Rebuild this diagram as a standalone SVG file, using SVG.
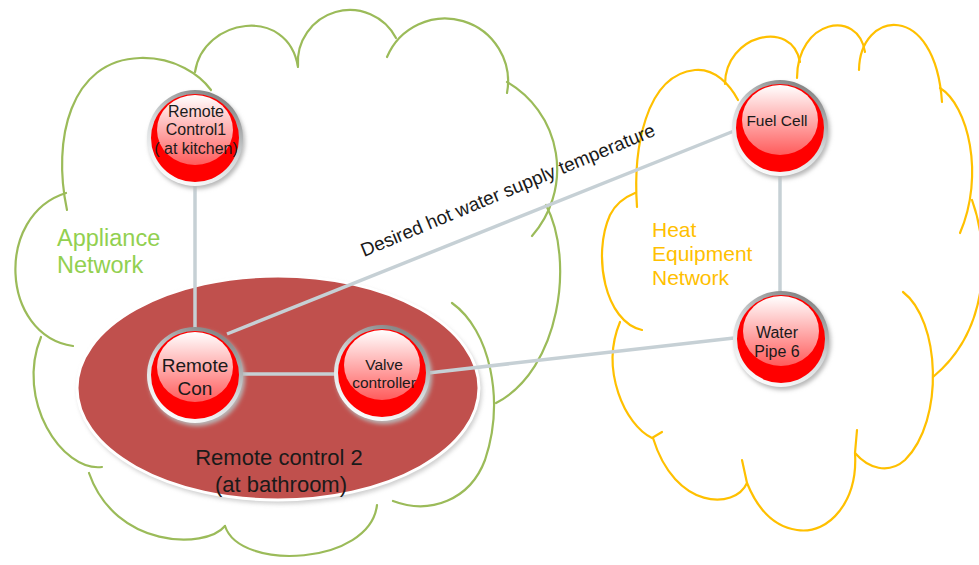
<svg xmlns="http://www.w3.org/2000/svg" width="979" height="565" viewBox="0 0 979 565">
<defs>
<linearGradient id="ring" x1="0.75" y1="0" x2="0.25" y2="1">
<stop offset="0" stop-color="#7d7d7d"/>
<stop offset="0.5" stop-color="#d4d8da"/>
<stop offset="1" stop-color="#ffffff"/>
</linearGradient>
<linearGradient id="gloss" x1="0" y1="0" x2="0" y2="1">
<stop offset="0" stop-color="#ffffff" stop-opacity="1"/>
<stop offset="1" stop-color="#ffffff" stop-opacity="0.36"/>
</linearGradient>
<filter id="blur" x="-20%" y="-20%" width="140%" height="140%"><feGaussianBlur stdDeviation="2"/></filter>
<g id="ball">
<circle cx="2" cy="3" r="48" fill="#b8b8b8" filter="url(#blur)"/>
<circle r="48" fill="url(#ring)"/>
<circle r="44" fill="#ff0000"/>
<ellipse cy="-8" rx="38" ry="35" fill="url(#gloss)"/>
</g>
</defs>
<style>
.gc{fill:none;stroke:#9bbb59;stroke-width:2.2;stroke-linecap:round}
.yc{fill:none;stroke:#ffc000;stroke-width:2.2;stroke-linecap:round}
.con{fill:none;stroke:#c6d0d5;stroke-width:3.5}
.nt{font-family:"Liberation Sans",Arial,sans-serif;fill:#1a1a1a;text-anchor:middle}
</style>
<g id="appliance-cloud">
<path class="gc" d="M67,210 C52,140 70,60 140,58 C175,57 200,75 211,90"/>
<path class="gc" d="M195,72 C203,18 288,5 298,67"/>
<path class="gc" d="M298,66 A52,52 0 0 1 396,38"/>
<path class="gc" d="M387,57 A63,63 0 0 1 507,93"/>
<path class="gc" d="M507,82 A101,101 0 0 1 532,236"/>
<path class="gc" d="M546,205 C575,260 560,370 496,403"/>
<path class="gc" d="M452,303 C490,330 505,400 485,460 C470,500 430,515 393,501"/>
<path class="gc" d="M377,505 C370,565 240,572 225,526"/>
<path class="gc" d="M225,526 C205,550 115,548 89,473"/>
<path class="gc" d="M102,467 C62,472 15,400 41,337"/>
<path class="gc" d="M73,346 C0,335 -5,215 66,193"/>
<text x="57" y="246" font-family="Liberation Sans,Arial,sans-serif" font-size="23.5" fill="#92d050">Appliance</text>
<text x="57" y="273" font-family="Liberation Sans,Arial,sans-serif" font-size="23.5" fill="#92d050">Network</text>
</g>
<g id="heat-cloud">
<path class="yc" d="M637,207 C633,150 645,75 695,70 C715,68 730,85 738,100"/>
<path class="yc" d="M725,84 C725,35 792,18 800,62"/>
<path class="yc" d="M797,78 C797,20 858,8 865,52"/>
<path class="yc" d="M859,70 C860,10 935,0 942,102"/>
<path class="yc" d="M940,88 C968,105 985,175 960,233"/>
<path class="yc" d="M972,200 C990,250 990,330 933,377"/>
<path class="yc" d="M903,292 C940,320 945,420 905,460 C888,475 868,468 855,453"/>
<path class="yc" d="M857,430 L855,453 C858,500 830,535 797,530 C775,527 758,510 747,483"/>
<path class="yc" d="M742,460 L747,483 C735,510 675,510 653,438"/>
<path class="yc" d="M662,432 L652,438 C625,425 600,370 620,322"/>
<path class="yc" d="M642,330 C605,322 592,255 610,215 C615,205 625,197 635,193"/>
<text x="652" y="237" font-family="Liberation Sans,Arial,sans-serif" font-size="21" fill="#ffc000">Heat</text>
<text x="652" y="261" font-family="Liberation Sans,Arial,sans-serif" font-size="21" fill="#ffc000">Equipment</text>
<text x="652" y="285" font-family="Liberation Sans,Arial,sans-serif" font-size="21" fill="#ffc000">Network</text>
</g>
<g id="remote-control-2">
<ellipse cx="280" cy="391" rx="202" ry="113" fill="#a0a0a0" opacity="0.5" filter="url(#blur)"/>
<ellipse cx="278" cy="388" rx="201" ry="112" fill="#c0504d" stroke="#ffffff" stroke-width="3"/>
<text x="279" y="465" font-family="Liberation Sans,Arial,sans-serif" font-size="22" fill="#1a1a1a" text-anchor="middle">Remote control 2</text>
<text x="281" y="492" font-family="Liberation Sans,Arial,sans-serif" font-size="22" fill="#1a1a1a" text-anchor="middle">(at bathroom)</text>
</g>
<g id="connectors">
<line class="con" x1="195" y1="185" x2="195" y2="328"/>
<line class="con" x1="240" y1="374" x2="336" y2="374"/>
<line class="con" x1="227" y1="334" x2="734" y2="131"/>
<line class="con" x1="428" y1="373" x2="734" y2="338"/>
<line class="con" x1="780" y1="175" x2="780" y2="293"/>
<text x="364" y="257" transform="rotate(-22.6 364 257)" font-family="Liberation Sans,Arial,sans-serif" font-size="19" fill="#1a1a1a">Desired hot water supply temperature</text>
</g>
<g id="remote-control-1">
<use href="#ball" x="195" y="138"/>
<text class="nt" x="196" y="117" font-size="16">Remote</text>
<text class="nt" x="196" y="135" font-size="16">Control1</text>
<text class="nt" x="196" y="154" font-size="16">( at kitchen)</text>
</g>
<g id="remote-con">
<use href="#ball" x="195" y="375"/>
<text class="nt" x="195" y="372" font-size="19">Remote</text>
<text class="nt" x="195" y="395" font-size="19">Con</text>
</g>
<g id="valve-controller">
<use href="#ball" x="382" y="373"/>
<text class="nt" x="384" y="370" font-size="15.5">Valve</text>
<text class="nt" x="384" y="388" font-size="15.5">controller</text>
</g>
<g id="fuel-cell">
<use href="#ball" x="780" y="128"/>
<text class="nt" x="777" y="126" font-size="15.5">Fuel Cell</text>
</g>
<g id="water-pipe-6">
<use href="#ball" x="781" y="339"/>
<text class="nt" x="777" y="338" font-size="16">Water</text>
<text class="nt" x="777" y="357" font-size="16">Pipe 6</text>
</g>
</svg>
